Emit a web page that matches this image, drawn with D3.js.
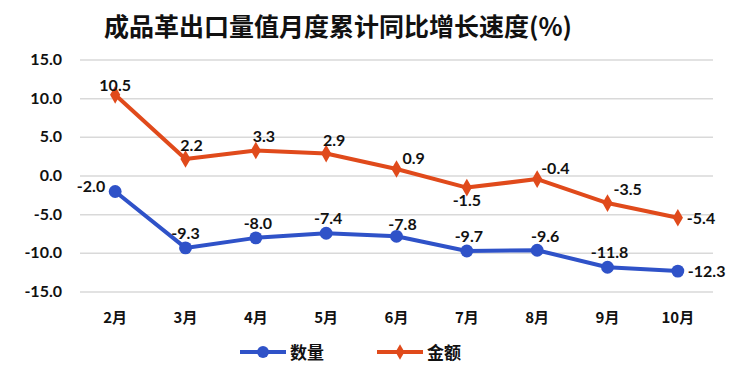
<!DOCTYPE html>
<html lang="zh">
<head>
<meta charset="UTF-8">
<title>成品革出口量值月度累计同比增长速度</title>
<script src="https://cdnjs.cloudflare.com/ajax/libs/d3/7.8.5/d3.min.js"></script>
<style>
  body { margin: 0; background: #fff; }
  text { font-family: "Lato", "Noto Sans CJK SC", sans-serif; font-weight: bold; fill: #111; }
  .grid line { stroke: #d9d9d9; stroke-width: 1.5px; }
</style>
</head>
<body>
<div id="chart"></div>
<script>
  // 数据
  const months = ["2月", "3月", "4月", "5月", "6月", "7月", "8月", "9月", "10月"];
  const quantity = [-2.0, -9.3, -8.0, -7.4, -7.8, -9.7, -9.6, -11.8, -12.3];
  const amount = [10.5, 2.2, 3.3, 2.9, 0.9, -1.5, -0.4, -3.5, -5.4];
  const yTicks = [15, 10, 5, 0, -5, -10, -15];

  const width = 750, height = 372;
  const margin = {top: 60, right: 37, bottom: 80, left: 80};

  const svg = d3.select("#chart").append("svg")
      .attr("width", width)
      .attr("height", height);

  const x = d3.scaleBand().domain(months).range([margin.left, width - margin.right]);
  const y = d3.scaleLinear().domain([-15, 15]).range([height - margin.bottom, margin.top]);

  // 标题
  svg.append("text")
      .attr("x", 338).attr("y", 36)
      .attr("text-anchor", "middle")
      .style("font-family", "'Noto Sans CJK SC', sans-serif")
      .style("font-size", "25px")
      .text("成品革出口量值月度累计同比增长速度(%)");

  // 网格线
  svg.append("g").attr("class", "grid")
    .selectAll("line").data(yTicks).enter().append("line")
      .attr("x1", margin.left).attr("x2", width - margin.right)
      .attr("y1", d => y(d)).attr("y2", d => y(d));

  // y轴标签
  svg.append("g").selectAll("text").data(yTicks).enter().append("text")
      .attr("x", 62).attr("y", d => y(d) + 5)
      .attr("text-anchor", "end")
      .style("font-size", "16px")
      .text(d => d.toFixed(1));

  // x轴标签
  svg.append("g").selectAll("text").data(months).enter().append("text")
      .attr("x", d => x(d) + x.bandwidth() / 2).attr("y", 323)
      .attr("text-anchor", "middle")
      .style("font-family", "'Noto Sans CJK SC', sans-serif")
      .style("font-size", "15px")
      .text(d => d);

  const cx = (d, i) => x(months[i]) + x.bandwidth() / 2;
  const line = d3.line().x(cx).y(d => y(d));

  const blue = "#2f52c8", orange = "#e04a1b";

  // 标签偏移 [dx, dy, anchor]
  const qLab = [[-10, 1, "end"], [0, -9, "middle"], [2, -9, "middle"], [2, -9, "middle"], [6, -6, "middle"],
                [2, -9, "middle"], [8, -8, "middle"], [2, -9, "middle"], [10, 6, "start"]];
  const aLab = [[0, -4, "middle"], [6, -8, "middle"], [8, -8, "middle"], [8, -8, "middle"], [6, -5, "start"],
                [0, 18, "middle"], [4, -5, "start"], [6, -8, "start"], [9, 6, "start"]];

  function series(vals, color, marker, labs) {
    svg.append("path").datum(vals)
        .attr("fill", "none").attr("stroke", color)
        .attr("stroke-width", 4).attr("stroke-linejoin", "round")
        .attr("d", line);
    svg.append("g").selectAll("path").data(vals).enter().append("path")
        .attr("transform", (d, i) => `translate(${cx(d, i)},${y(d)})`)
        .attr("fill", color)
        .attr("d", d3.symbol().type(marker).size(marker === d3.symbolCircle ? 130 : 90));
    svg.append("g").selectAll("text").data(vals).enter().append("text")
        .attr("x", (d, i) => cx(d, i) + labs[i][0])
        .attr("y", (d, i) => y(d) + labs[i][1])
        .attr("text-anchor", (d, i) => labs[i][2])
        .style("font-size", "16px")
        .text(d => d.toFixed(1));
  }

  series(amount, orange, d3.symbolDiamond, aLab);
  series(quantity, blue, d3.symbolCircle, qLab);

  // 图例
  const legend = [["数量", blue, d3.symbolCircle, 240], ["金额", orange, d3.symbolDiamond, 377]];
  legend.forEach(([name, color, marker, lx]) => {
    const g = svg.append("g").attr("transform", `translate(${lx},352)`);
    g.append("line").attr("x1", 0).attr("x2", 46).attr("stroke", color).attr("stroke-width", 4);
    g.append("path").attr("transform", "translate(23,0)").attr("fill", color)
        .attr("d", d3.symbol().type(marker).size(marker === d3.symbolCircle ? 110 : 70));
    g.append("text").attr("x", 50).attr("y", 7)
        .style("font-family", "'Noto Sans CJK SC', sans-serif")
        .style("font-size", "17px").text(name);
  });
</script>
</body>
</html>
